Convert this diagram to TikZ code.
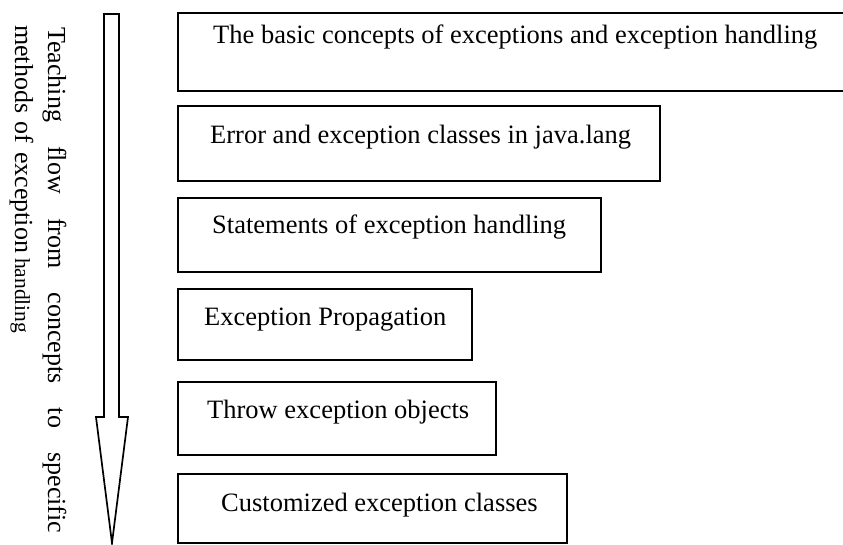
\documentclass[tikz,border=0pt]{standalone}
\usepackage{fontspec}
\setmainfont{Liberation Serif}
\begin{document}
\begin{tikzpicture}[x=1pt,y=-1pt,
  box/.style={draw, line width=1.7pt, anchor=north west, inner sep=0pt, outer sep=0pt},
  lbl/.style={anchor=base west, inner sep=0pt, font=\fontsize{26.5}{30}\selectfont},
  side/.style={anchor=base west, inner sep=0pt, rotate=-90, font=\fontsize{26}{30}\selectfont},
  flow/.style={draw, line width=1.7pt, line join=miter}]
\useasboundingbox (0,0) rectangle (843,544);
\clip (0,0) rectangle (843,544);
% boxes
\node[box, minimum width=672pt, minimum height=78pt] (b1) at (178,13) {};
\node[box, minimum width=482pt, minimum height=75pt] (b2) at (178,106) {};
\node[box, minimum width=423pt, minimum height=74pt] (b3) at (178,198) {};
\node[box, minimum width=294pt, minimum height=71pt] (b4) at (178,289) {};
\node[box, minimum width=318pt, minimum height=73pt] (b5) at (178,382) {};
\node[box, minimum width=389pt, minimum height=69pt] (b6) at (178,474) {};
% box texts
\node[lbl] (t1) at (213,43) {The basic concepts of exceptions and exception handling};
\node[lbl] (t2) at (210,143) {Error and exception classes in java.lang};
\node[lbl] (t3) at (212,233) {Statements of exception handling};
\node[lbl] (t4) at (204,325) {Exception Propagation};
\node[lbl] (t5) at (207,418) {Throw exception objects};
\node[lbl] (t6) at (221,511) {Customized exception classes};
% big arrow
\draw[flow] (104,14) -- (119,14) -- (119,417) -- (128,417) -- (112,543)
  -- (96,417) -- (104,417) -- cycle;
% rotated caption
\node[side] (s1) at (48,27) {\hbox to 506pt{Teaching\hfill flow\hfill from\hfill concepts\hfill to\hfill specific}};
\node[side] (s2) at (15,25) {\hbox to 228pt{methods\hfill of\hfill exception}\hspace{5pt}{\fontsize{21.5}{24}\selectfont handling}};
\end{tikzpicture}
\end{document}
